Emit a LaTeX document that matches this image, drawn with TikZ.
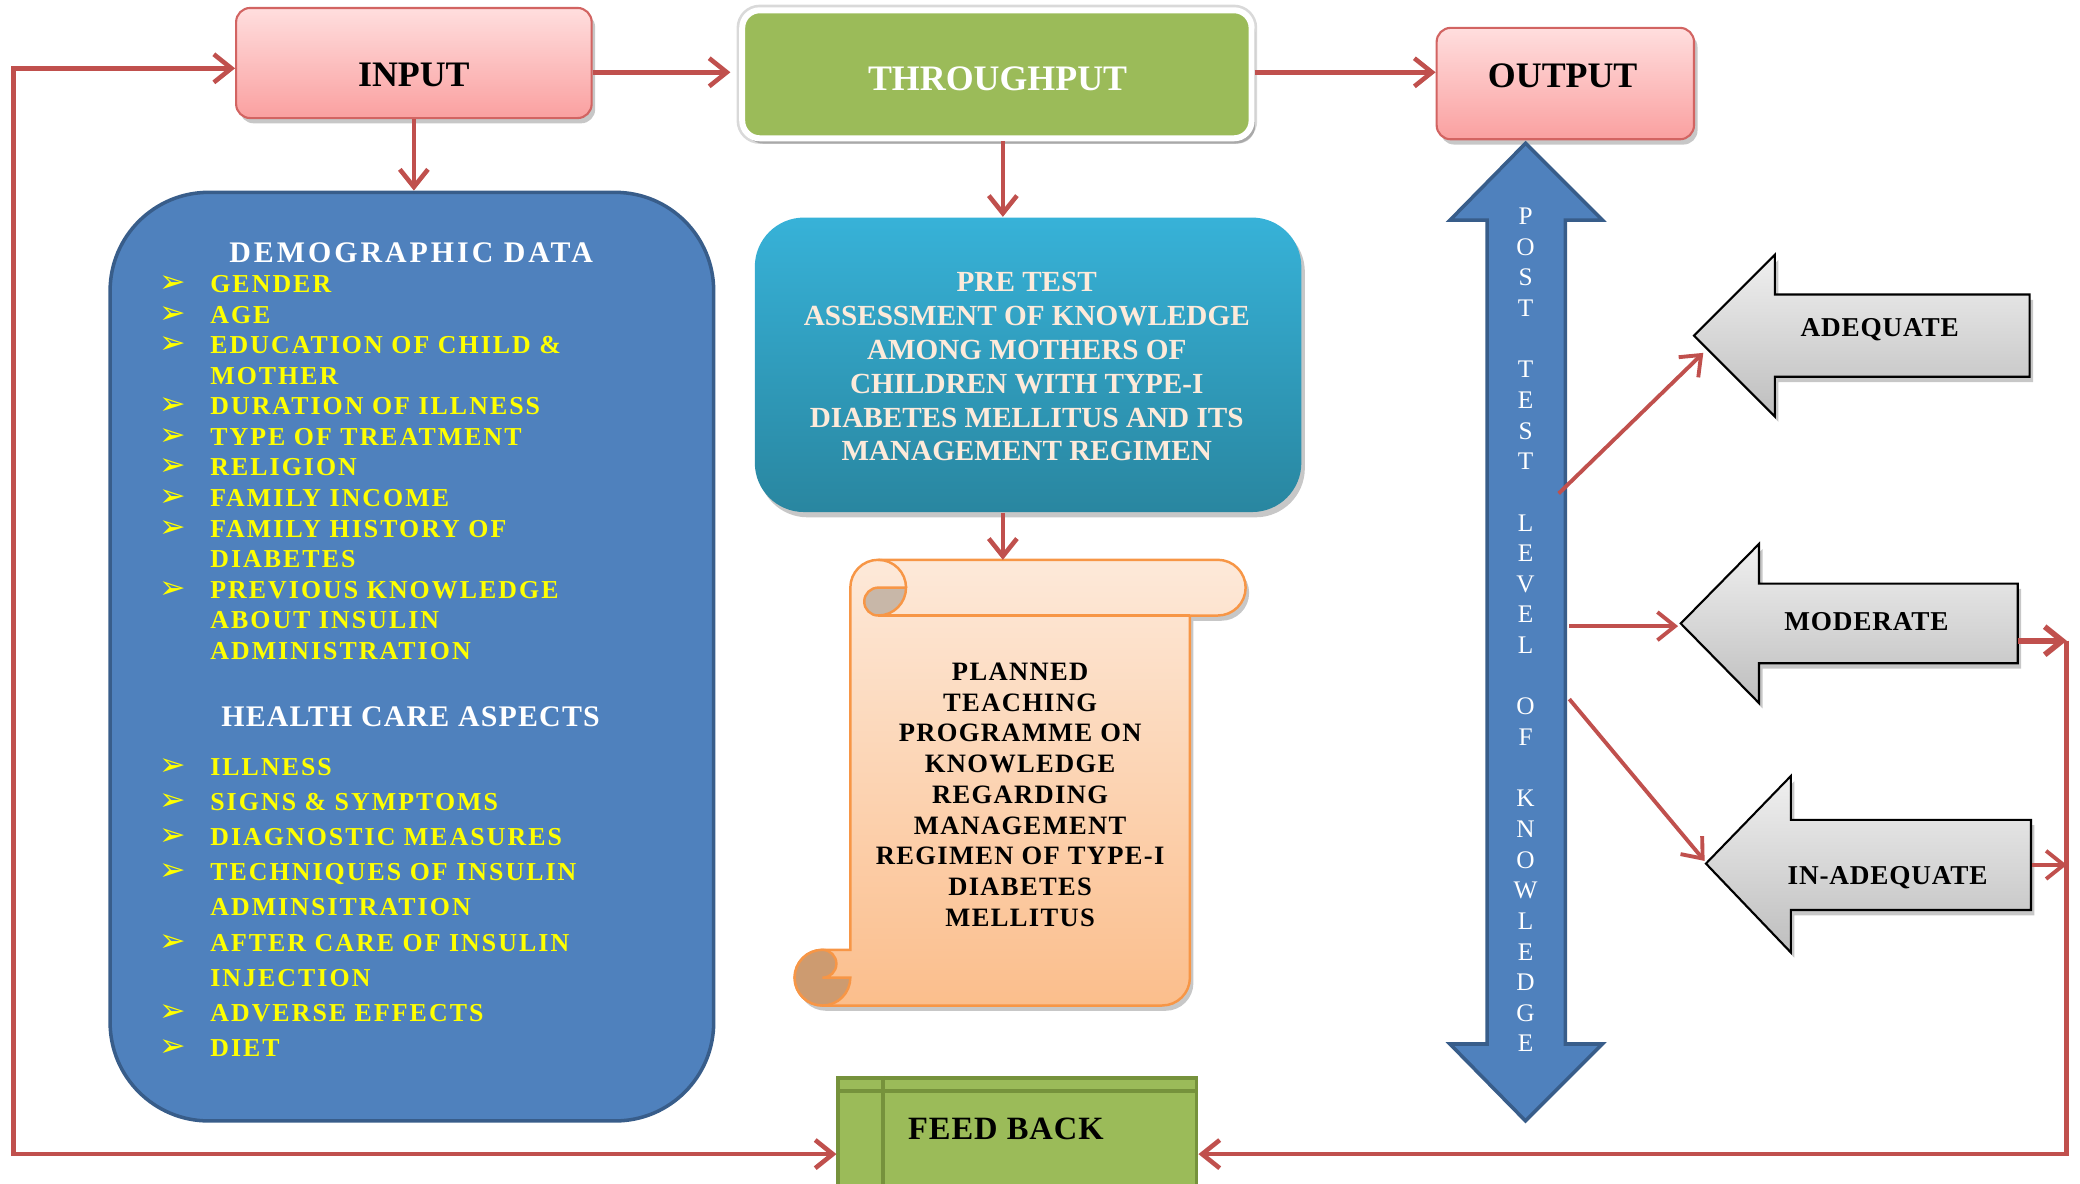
\documentclass[tikz,border=0pt]{standalone}
\usepackage{fontspec}
\setmainfont{Liberation Serif}
\newfontfamily\bulfont{DejaVu Sans}
\newfontfamily\lsitem{Liberation Serif}[LetterSpace=8]
\newfontfamily\lshead{Liberation Serif}[LetterSpace=4]
\newfontfamily\lsheadw{Liberation Serif}[LetterSpace=10]
\newfontfamily\lsscroll{Liberation Serif}[LetterSpace=5]
\newfontfamily\lsgray{Liberation Serif}[LetterSpace=3]
\usetikzlibrary{arrows.meta,shadows,calc}
\definecolor{arr}{RGB}{192,80,77}
\definecolor{pinktop}{RGB}{255,222,222}
\definecolor{pinkbot}{RGB}{250,160,160}
\definecolor{pinkdraw}{RGB}{210,100,98}
\definecolor{tpgreen}{RGB}{155,187,89}
\definecolor{fbdraw}{RGB}{118,146,60}
\definecolor{demoblue}{RGB}{79,129,189}
\definecolor{demodraw}{RGB}{56,93,138}
\definecolor{itemyellow}{RGB}{255,255,0}
\definecolor{tealtop}{RGB}{55,178,216}
\definecolor{tealbot}{RGB}{41,134,160}
\definecolor{cream}{RGB}{253,234,218}
\definecolor{scrtop}{RGB}{253,233,217}
\definecolor{scrbot}{RGB}{251,190,140}
\definecolor{scrdraw}{RGB}{247,150,70}
\definecolor{curlA}{RGB}{200,183,168}
\definecolor{curlB}{RGB}{205,155,112}
\definecolor{graytop}{RGB}{240,240,240}
\definecolor{graybot}{RGB}{190,190,190}
\def\spx{0.013265cm}
\begin{document}
\begin{tikzpicture}[x=0.013265cm, y=-0.013265cm,
  redline/.style={draw=arr, line width=1.3pt},
  redarrow/.style={redline, -{Straight Barb[length=5pt,width=8pt]}},
  softshadow/.style={drop shadow={shadow xshift=1pt, shadow yshift=-1.5pt, opacity=0.22, fill=black}},
  pinkbox/.style={draw=pinkdraw, line width=0.6pt, top color=pinktop, bottom color=pinkbot, rounded corners=4pt, softshadow, inner sep=0pt},
  tpbox/.style={preaction={draw=black!15, line width=3.2pt}, draw=white, line width=1.7pt, fill=tpgreen, rounded corners=5pt, softshadow, inner sep=0pt},
  demobox/.style={draw=demodraw, line width=1pt, fill=demoblue, rounded corners=28pt, inner sep=0pt},
  prebox/.style={top color=tealtop, bottom color=tealbot, rounded corners=14pt, softshadow, inner sep=0pt},
  scrollshape/.style={draw=scrdraw, line width=0.7pt, top color=scrtop, bottom color=scrbot, softshadow},
  curl/.style={draw=scrdraw, line width=0.7pt},
  fbbox/.style={draw=fbdraw, line width=1.1pt, fill=tpgreen, inner sep=0pt},
  grayarrow/.style={draw=black, line width=0.6pt, top color=graytop, bottom color=graybot, softshadow},
  bluearrow/.style={draw=demodraw, line width=1pt, fill=demoblue},
  boxtxt/.style={font=\fontsize{10.2}{12}\selectfont\bfseries, anchor=base, inner sep=0pt},
  headtxt/.style={font=\lshead\fontsize{8.5}{10}\selectfont\bfseries, text=white, anchor=base, inner sep=0pt},
  itemtxt/.style={font=\lsitem\fontsize{7.35}{8.6}\selectfont\bfseries, text=itemyellow, anchor=base west, inner sep=0pt},
  bullet/.style={font=\bulfont\fontsize{9}{10}\selectfont, text=itemyellow, anchor=base, inner sep=0pt},
  pretxt/.style={font=\fontsize{8.3}{10}\selectfont\bfseries, text=cream, anchor=base, inner sep=0pt},
  scrolltxt/.style={font=\lsscroll\fontsize{7.55}{9}\selectfont\bfseries, anchor=base, inner sep=0pt},
  vlet/.style={font=\fontsize{7.2}{8.6}\selectfont, text=white, anchor=base, inner sep=0pt},
  graytxt/.style={font=\lsgray\fontsize{7.75}{9}\selectfont\bfseries, anchor=base, inner sep=0pt},
  fbtxt/.style={font=\lsgray\fontsize{9.25}{11}\selectfont\bfseries, anchor=base west, inner sep=0pt},
]
\useasboundingbox (0,0) rectangle (1568,892);
\clip (0,0) rectangle (1568,892);

% ---------- main boxes ----------
\node[pinkbox, minimum width=268*\spx, minimum height=83*\spx] (input) at (312,47.5) {};
\node[boxtxt] (inputT) at (312,65.5) {INPUT};
\node[tpbox, minimum width=384*\spx, minimum height=96.5*\spx] (tp) at (751.5,56) {};
\node[boxtxt, text=white] (tpT) at (752,68) {THROUGHPUT};
\node[pinkbox, minimum width=194*\spx, minimum height=84*\spx] (output) at (1180,63) {};
\node[boxtxt] (outT) at (1178,65.6) {OUTPUT};

\node[demobox, minimum width=455*\spx, minimum height=700*\spx] (demo) at (310.5,495) {};
\node[prebox, minimum width=412*\spx, minimum height=222*\spx] (pre) at (775,275) {};
\node[fbbox, minimum width=270*\spx, minimum height=100*\spx] (fb) at (767,862.5) {};
\draw[draw=fbdraw, line width=1.1pt] ($(fb.north west)+(0,11.5)$) -- ($(fb.north east)+(0,11.5)$);
\draw[draw=fbdraw, line width=1.1pt] ($(fb.north west)+(35,0)$) -- ($(fb.south west)+(35,0)$);
\node[fbtxt] (fbT) at (684,859) {FEED BACK};

% ---------- demographic text ----------
\node[headtxt, font=\lsheadw\fontsize{8.5}{10}\selectfont\bfseries] (demoH) at (310,198) {DEMOGRAPHIC DATA};
\foreach \t [count=\i from 0] in {GENDER, AGE, {EDUCATION OF CHILD \&}, MOTHER, {DURATION OF ILLNESS}, {TYPE OF TREATMENT}, RELIGION, {FAMILY INCOME}, {FAMILY HISTORY OF}, DIABETES, {PREVIOUS KNOWLEDGE}, {ABOUT INSULIN}, ADMINISTRATION}
  \node[itemtxt] (dm\i) at (158,220.5+23.05*\i) {\t};
\foreach \i in {0,1,2,4,5,6,7,8,10}
  \node[bullet] (db\i) at (130,220.5+23.05*\i) {➢};
\node[headtxt] (hcH) at (309.5,548) {HEALTH CARE ASPECTS};
\foreach \t [count=\i from 0] in {ILLNESS, {SIGNS \& SYMPTOMS}, {DIAGNOSTIC MEASURES}, {TECHNIQUES OF INSULIN}, ADMINSITRATION, {AFTER CARE OF INSULIN}, INJECTION, {ADVERSE EFFECTS}, DIET}
  \node[itemtxt] (hc\i) at (158,584.5+26.5*\i) {\t};
\foreach \i in {0,1,2,3,5,7,8}
  \node[bullet] (hb\i) at (130,584.5+26.5*\i) {➢};

% ---------- pre test text ----------
\foreach \t [count=\i from 0] in {PRE TEST, ASSESSMENT OF KNOWLEDGE, AMONG MOTHERS OF, CHILDREN WITH TYPE-I, DIABETES MELLITUS AND ITS, MANAGEMENT REGIMEN}
  \node[pretxt] (pt\i) at (774,220+25.5*\i) {\t};

% ---------- scroll ----------
\path[scrollshape] (641,443) arc[start angle=180,end angle=270,radius=21] -- (918,422)
  arc[start angle=270,end angle=450,radius=21] -- (897,464) -- (897,737)
  arc[start angle=0,end angle=90,radius=21] -- (620,758)
  arc[start angle=90,end angle=270,radius=21] -- (641,716) -- cycle;
\path[curl, fill=curlA] (662,443) -- (683,443) arc[start angle=0,end angle=90,radius=21]
  arc[start angle=90,end angle=270,radius=10.5] -- cycle;
\draw[curl] (662,422) arc[start angle=270,end angle=360,radius=21];
\draw[curl] (662,464) -- (897,464);
\path[curl, fill=curlB] (620,758) arc[start angle=90,end angle=270,radius=21]
  arc[start angle=270,end angle=450,radius=10.5] -- (641,737)
  arc[start angle=0,end angle=90,radius=21] -- cycle;
\coordinate (scrolltop) at (756,422);
\foreach \t [count=\i from 0] in {PLANNED, TEACHING, PROGRAMME ON, KNOWLEDGE, REGARDING, MANAGEMENT, REGIMEN OF TYPE-I, DIABETES, MELLITUS}
  \node[scrolltxt] (sc\i) at (769,512.8+23.2*\i) {\t};

% ---------- double blue arrow ----------
\path[bluearrow] (1150,108) -- (1208,166) -- (1180,166) -- (1180,787) -- (1208,787) -- (1150,845)
  -- (1093,787) -- (1121,787) -- (1121,166) -- (1093,166) -- cycle;
\foreach \l/\i in {P/0,O/1,S/2,T/3,T/5,E/6,S/7,T/8,L/10,E/11,V/12,E/13,L/14,O/16,F/17,K/19,N/20,O/21,W/22,L/23,E/24,D/25,G/26,E/27}
  \node[vlet] (v\i) at (1150,169.3+23.1*\i) {\l};

% ---------- gray arrows ----------
\path[grayarrow] (1277,253) -- (1338,192) -- (1338,222) -- (1530,222) -- (1530,284) -- (1338,284) -- (1338,314) -- cycle;
\node[graytxt] (adq) at (1417,254) {ADEQUATE};
\path[grayarrow] (1267,470) -- (1326,410) -- (1326,440) -- (1521,440) -- (1521,500) -- (1326,500) -- (1326,530) -- cycle;
\node[graytxt] (mod) at (1407,475) {MODERATE};
\path[grayarrow] (1286,651) -- (1350,585) -- (1350,618) -- (1531,618) -- (1531,686) -- (1350,686) -- (1350,718) -- cycle;
\node[graytxt] (inad) at (1423,667) {IN-ADEQUATE};

% ---------- connectors ----------
\coordinate (lx) at (10,51.5);
\coordinate (fby) at (0,870);
\coordinate (tpx) at (756,0);
\coordinate (topy) at (0,54.5);
\draw[redline, {Straight Barb[length=5pt,width=8pt]}-{Straight Barb[length=5pt,width=8pt]}]
  (fb.west |- fby) -| (lx) -- (input.west |- lx);
\draw[redarrow, shorten >=2.5pt] (input.east |- topy) -- (tp.west |- topy);
\draw[redarrow] (tp.east |- topy) -- (output.west |- topy);
\draw[redarrow] (input.south) -- (input.south |- demo.north);
\draw[redarrow] (tp.south -| tpx) -- (pre.north -| tpx);
\draw[redarrow] (pre.south -| tpx) -- (scrolltop);

\coordinate (ka) at (1175,372);
\coordinate (kb) at (1183,472);
\coordinate (kc) at (1183,527);
\coordinate (adqtip) at (1284,266);
\coordinate (modtip) at (1265,472);
\coordinate (inadtip) at (1285,649);
\draw[redarrow, line width=1.1pt] (ka) -- (adqtip);
\draw[redarrow, line width=1.1pt] (kb) -- (modtip);
\draw[redarrow, line width=1.1pt] (kc) -- (inadtip);

\coordinate (modR) at (1521,483);
\coordinate (rx) at (1558,483);
\coordinate (inadR) at (1532,652);
\draw[redarrow, line width=1.6pt] (modR) -- (rx);
\draw[redarrow] (rx) |- (fb.east |- fby);
\draw[redarrow, line width=1.1pt] (inadR) -- (inadR -| rx);
\end{tikzpicture}
\end{document}
